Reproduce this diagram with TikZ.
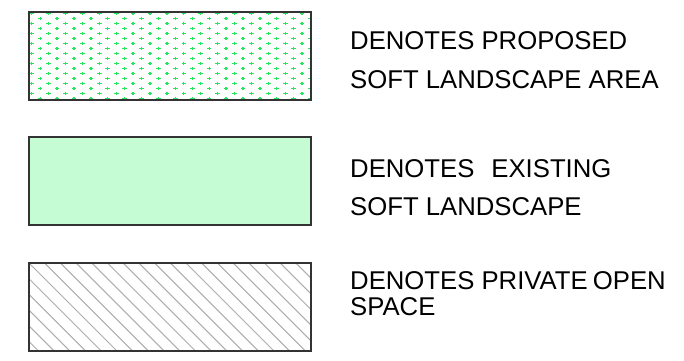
\documentclass[tikz,border=0pt]{standalone}
\usepackage{fontspec}
\setmainfont{Liberation Sans}
\begin{document}
\begin{tikzpicture}[x=1bp,y=-1bp,
  boxline/.style={draw=black!80, line width=1.5bp, anchor=north west, inner sep=0pt, minimum width=282bp, minimum height=88bp},
  legtext/.style={anchor=base west, inner sep=0pt, font=\fontsize{25.8}{30}\selectfont},
  plusdot/.style={draw={rgb,255:red,40;green,228;blue,95}, line width=1.3bp},
  hatchline/.style={draw=black!32, line width=1bp}]
\useasboundingbox (0,0) rectangle (684,360);
\fill[white] (0,0) rectangle (684,360);

% box 1: proposed soft landscape (green plus dots)
\begin{scope}
  \clip (28,11) rectangle (310,99);
  \foreach \r in {0,...,17} {
    \pgfmathsetmacro{\yy}{13.3+5*\r}
    \pgfmathsetmacro{\xo}{31.7+8.45*mod(\r,2)}
    \foreach \c in {0,...,16} {
      \draw[plusdot] ({\xo+16.9*\c-2.3},\yy) -- ++(4.6,0)
                     ({\xo+16.9*\c},{\yy-1.6}) -- ++(0,3.2);
    }
  }
\end{scope}
\node[boxline] (box1) at (28,11) {};

% box 2: existing soft landscape
\node[boxline, fill={rgb,255:red,198;green,252;blue,212}] (box2) at (28,136) {};

% box 3: private open space (hatch)
\begin{scope}
  \clip (28,262) rectangle (310,350);
  \foreach \k in {-6,...,18} {
    \draw[hatchline] ({28+15.7*\k},262) -- ++(100,100);
  }
\end{scope}
\node[boxline] (box3) at (28,262) {};

% legend texts
\node[legtext] (t1a) at (350,49.3) {DENOTES PROPOSED};
\node[legtext] (t1b) at (350,88.3) {SOFT LANDSCAPE AREA};
\node[legtext] (t2a) at (350,177.7) {DENOTES\hspace{0.66em}EXISTING};
\node[legtext] (t2b) at (350,215.3) {SOFT LANDSCAPE};
\node[legtext] (t3a) at (350,289.3) {DENOTES PRIVATE\hspace{0.2em}OPEN};
\node[legtext] (t3b) at (350,315) {SPACE};
\end{tikzpicture}
\end{document}
